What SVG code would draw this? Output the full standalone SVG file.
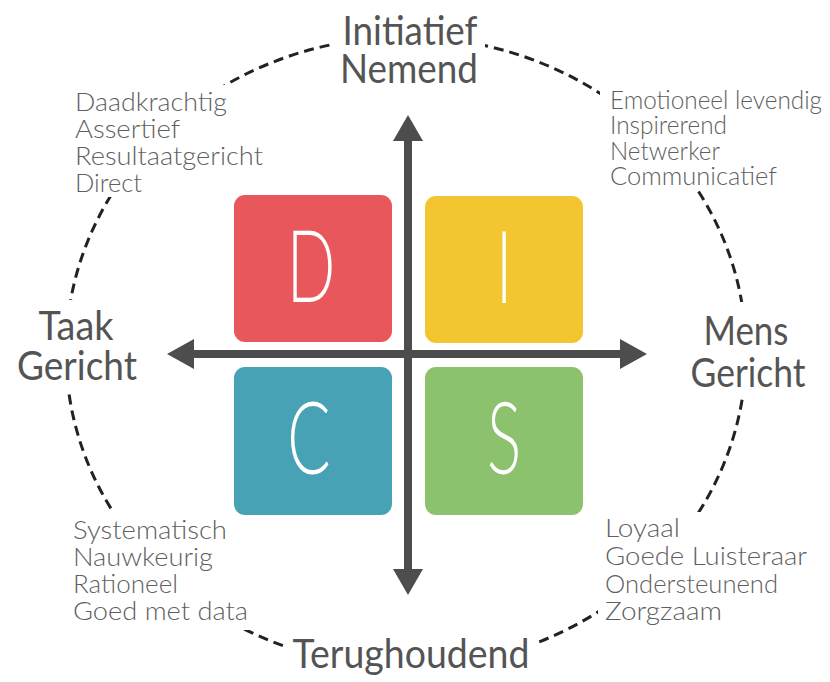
<svg xmlns="http://www.w3.org/2000/svg" width="830" height="682" viewBox="0 0 830 682">
<style>
.lbl{font-family:Lato,"Liberation Sans",sans-serif;font-size:40px;fill:#545454;text-anchor:middle}
.lst{font-family:Lato,"Liberation Sans",sans-serif;font-size:25px;fill:#5f5f5f;font-weight:300}
.ltr{font-family:Lato,"Liberation Sans",sans-serif;font-size:100px;fill:#fff;font-weight:300;text-anchor:middle}
.arr{stroke:#4d4d4d;stroke-width:8;fill:none}
.head{fill:#4d4d4d}
</style>
<defs>
<mask id="m">
<rect x="0" y="0" width="830" height="682" fill="#fff"/>
<rect x="335" y="0" width="150" height="95" fill="#000"/>
<rect x="70" y="85" width="200" height="112" fill="#000"/>
<rect x="600" y="84" width="228" height="106" fill="#000"/>
<rect x="10" y="300" width="135" height="92" fill="#000"/>
<rect x="685" y="302" width="127" height="95" fill="#000"/>
<rect x="66" y="512" width="190" height="118" fill="#000"/>
<rect x="598" y="512" width="214" height="108" fill="#000"/>
<rect x="284" y="632" width="254" height="50" fill="#000"/>
</mask>
</defs>
<rect width="830" height="682" fill="#fff"/>
<ellipse id="ring" cx="406" cy="352" rx="340" ry="315" fill="none" stroke="#222" stroke-width="3" stroke-dasharray="10 6" mask="url(#m)"/>
<g id="box-D"><rect x="234" y="195" width="158" height="147" rx="11" fill="#E8575B"/><text class="ltr" transform="translate(311,302) scale(0.64,1)">D</text></g>
<g id="box-I"><rect x="425" y="196" width="158" height="147" rx="11" fill="#F3C631"/><text class="ltr" transform="translate(504,303) scale(0.64,1)">I</text></g>
<g id="box-C"><rect x="234" y="367" width="158" height="148" rx="11" fill="#47A2B5"/><text class="ltr" transform="translate(309,474) scale(0.64,1)">C</text></g>
<g id="box-S"><rect x="425" y="367" width="158" height="148" rx="11" fill="#8CC26E"/><text class="ltr" transform="translate(504,474) scale(0.64,1)">S</text></g>
<g id="connectors">
<line class="arr" x1="408" y1="136" x2="408" y2="574"/>
<polygon class="head" points="408,115 393,141 423,141"/>
<polygon class="head" points="408,595 393,569 423,569"/>
<line class="arr" x1="190" y1="354" x2="625" y2="354"/>
<polygon class="head" points="167,354 194,339 194,369"/>
<polygon class="head" points="647,354 620,339 620,369"/>
</g>
<g id="top"><text class="lbl" x="410" y="45" textLength="135" lengthAdjust="spacingAndGlyphs">Initiatief</text><text class="lbl" x="409" y="83" textLength="138" lengthAdjust="spacingAndGlyphs">Nemend</text></g>
<g id="left"><text class="lbl" x="76" y="340" textLength="75" lengthAdjust="spacingAndGlyphs">Taak</text><text class="lbl" x="77" y="380" textLength="120" lengthAdjust="spacingAndGlyphs">Gericht</text></g>
<g id="right"><text class="lbl" x="746" y="345" textLength="85" lengthAdjust="spacingAndGlyphs">Mens</text><text class="lbl" x="748" y="387" textLength="115" lengthAdjust="spacingAndGlyphs">Gericht</text></g>
<g id="bottom"><text class="lbl" x="411" y="668" textLength="237" lengthAdjust="spacingAndGlyphs">Terughoudend</text></g>
<g id="list-D">
<text class="lst" x="75" y="111" textLength="152" lengthAdjust="spacingAndGlyphs">Daadkrachtig</text>
<text class="lst" x="75" y="138" textLength="105" lengthAdjust="spacingAndGlyphs">Assertief</text>
<text class="lst" x="75" y="165" textLength="188" lengthAdjust="spacingAndGlyphs">Resultaatgericht</text>
<text class="lst" x="75" y="192" textLength="67" lengthAdjust="spacingAndGlyphs">Direct</text>
</g>
<g id="list-I">
<text class="lst" x="610" y="109" textLength="212" lengthAdjust="spacingAndGlyphs">Emotioneel levendig</text>
<text class="lst" x="610" y="134" textLength="117" lengthAdjust="spacingAndGlyphs">Inspirerend</text>
<text class="lst" x="610" y="160" textLength="110" lengthAdjust="spacingAndGlyphs">Netwerker</text>
<text class="lst" x="610" y="185" textLength="167" lengthAdjust="spacingAndGlyphs">Communicatief</text>
</g>
<g id="list-C">
<text class="lst" x="73" y="539" textLength="154" lengthAdjust="spacingAndGlyphs">Systematisch</text>
<text class="lst" x="73" y="566" textLength="140" lengthAdjust="spacingAndGlyphs">Nauwkeurig</text>
<text class="lst" x="73" y="593" textLength="105" lengthAdjust="spacingAndGlyphs">Rationeel</text>
<text class="lst" x="73" y="620" textLength="175" lengthAdjust="spacingAndGlyphs">Goed met data</text>
</g>
<g id="list-S">
<text class="lst" x="605" y="537" textLength="75" lengthAdjust="spacingAndGlyphs">Loyaal</text>
<text class="lst" x="605" y="565" textLength="202" lengthAdjust="spacingAndGlyphs">Goede Luisteraar</text>
<text class="lst" x="605" y="593" textLength="173" lengthAdjust="spacingAndGlyphs">Ondersteunend</text>
<text class="lst" x="605" y="620" textLength="117" lengthAdjust="spacingAndGlyphs">Zorgzaam</text>
</g>
</svg>
